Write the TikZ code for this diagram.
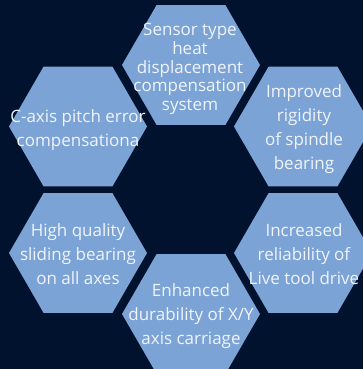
\documentclass[tikz,border=0pt]{standalone}
\usepackage{fontspec}
\setmainfont{Open Sans}
\usetikzlibrary{shapes.geometric}
\definecolor{bgnavy}{HTML}{01122E}
\definecolor{hexblue}{HTML}{7CA3D5}
\definecolor{hextext}{HTML}{F0F4FB}
\tikzset{
  hexbox/.style={regular polygon, regular polygon sides=6, minimum size=138pt,
    inner sep=0pt, fill=hexblue, draw=none},
  hexlabel/.style={align=center, text=hextext, inner sep=0pt,
    font=\fontsize{17pt}{24pt}\selectfont},
  hexlabeltight/.style={hexlabel, font=\fontsize{17pt}{18.8pt}\selectfont}
}
\begin{document}
\begin{tikzpicture}[x=1pt,y=-1pt]
\fill[bgnavy] (0,0) rectangle (363,369);
\useasboundingbox (0,0) rectangle (363,369);
\begin{scope}
\clip (0,0) rectangle (363,369);
\node[hexbox] (h1) at (191,65) {};
\node[hexbox] (h2) at (78,126.5) {};
\node[hexbox] (h3) at (303,126.5) {};
\node[hexbox] (h4) at (78,253) {};
\node[hexbox] (h5) at (303,253) {};
\node[hexbox] (h6) at (191,314) {};
\end{scope}
\node[hexlabeltight] (t1) at (190,69) {Sensor type\\heat\\displacement\\compensation\\system};
\node[hexlabel] (t2) at (78,130.5) {C-axis pitch error\\compensationa};
\node[hexlabel] (t3) at (304,129) {Improved\\rigidity\\of spindle\\bearing};
\node[hexlabel] (t4) at (78,254) {High quality\\sliding bearing\\on all axes};
\node[hexlabel] (t5) at (304,254) {Increased\\reliability of\\Live tool drive};
\node[hexlabel] (t6) at (191,316) {Enhanced\\durability of X/Y\\axis carriage};
\end{tikzpicture}
\end{document}
